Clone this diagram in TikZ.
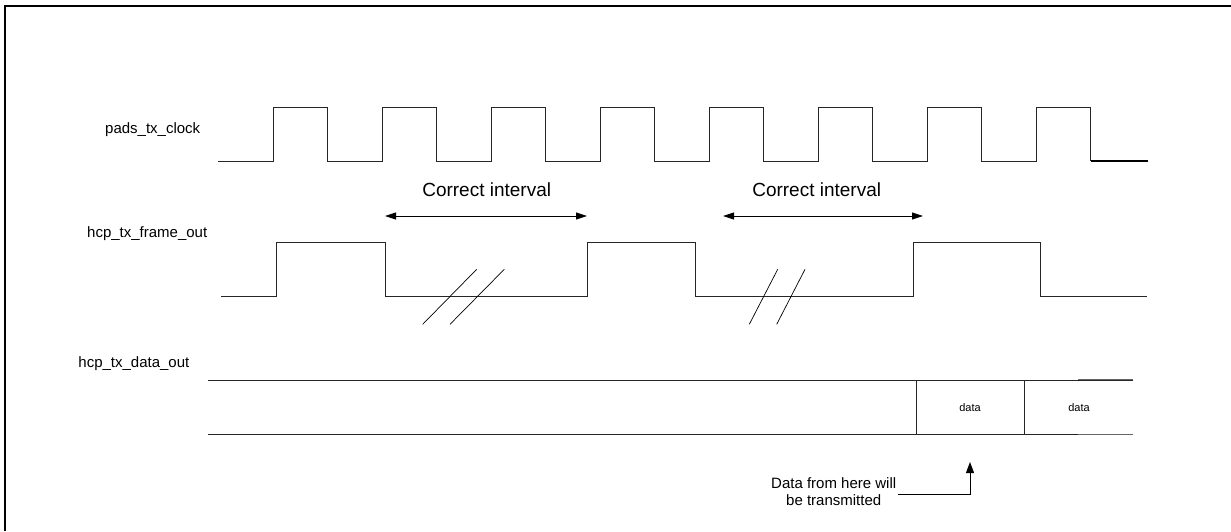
\documentclass[tikz,border=0pt]{standalone}
\usepackage{fontspec}
\setmainfont{Liberation Sans}
\usetikzlibrary{arrows.meta}

\begin{document}
\begin{tikzpicture}[
    x=1pt, y=-1pt,
    wave/.style={draw=black!85, line width=0.9pt},
    siglabel/.style={inner sep=0pt, font=\fontsize{15}{18}\selectfont},
    intervaltext/.style={inner sep=0pt, font=\fontsize{19}{22}\selectfont},
    datatext/.style={inner sep=0pt, font=\fontsize{11}{13}\selectfont},
    span/.style={line width=0.9pt, {Triangle[length=11pt,width=7pt]}-{Triangle[length=11pt,width=7pt]}},
    pointer/.style={line width=0.9pt, -{Triangle[length=11pt,width=8pt]}},
    hatch/.style={draw=black, line width=0.7pt}
]

    \useasboundingbox (0,0) rectangle (1231,531);

    % Frame
    \draw[line width=2.4pt] (5,531) -- (5,6) -- (1231,6);

    % Coordinates
    \coordinate (ci1_left)  at (385,216);
    \coordinate (ci1_right) at (587,216);
    \coordinate (ci2_left)  at (723,216);
    \coordinate (ci2_right) at (923,216);
    \coordinate (data_here) at (970,462);

    % Signal names
    \node[siglabel] (clk_name)   at (152.7,130) {pads\_tx\_clock};
    \node[siglabel] (frame_name) at (147.2,233.3) {hcp\_tx\_frame\_out};
    \node[siglabel] (data_name)  at (133.9,363.3) {hcp\_tx\_data\_out};

    % Clock
    \draw[wave] (218,161)
        \foreach \k in {0,...,7} {
            -- ({273+109*\k},161) -- ({273+109*\k},107)
            -- ({327.5+109*\k},107) -- ({327.5+109*\k},161)
        } -- (1090.5,161);
    \draw[line width=1.6pt] (1090.5,161) -- (1148,161);

    % Frame signal
    \draw[wave] (221,296) -- (276.5,296) -- (276.5,242) -- (385,242)
        -- (385,296) -- (587,296) -- (587,242) -- (695.5,242)
        -- (695.5,296) -- (913,296) -- (913,242) -- (1040,242)
        -- (1040,296) -- (1147,296);

    % Break marks
    \draw[hatch] (422.7,324.3) -- (476.7,269.3);
    \draw[hatch] (450,324.3) -- (504.3,269.3);
    \draw[hatch] (749.3,324.3) -- (777.7,269.3);
    \draw[hatch] (776.7,324.3) -- (805,269.3);

    % Correct intervals
    \draw[span] (ci1_left) -- (ci1_right);
    \draw[span] (ci2_left) -- (ci2_right);
    \node[intervaltext] (ci1_text) at (486.7,190) {Correct interval};
    \node[intervaltext] (ci2_text) at (816.7,190) {Correct interval};

    % Data bus
    \draw[wave] (208,380) -- (1133,380);
    \draw[wave] (208,434) -- (1133,434);
    \draw[wave] (916,380) -- (916,434);
    \draw[wave] (1024,380) -- (1024,434);
    \draw[black!60, line width=0.9pt] (1078,379.3) -- (1133,379.3);
    \draw[black!60, line width=0.9pt] (1078,434.7) -- (1133,434.7);
    \node[datatext] (data_a) at (970,408) {data};
    \node[datatext] (data_b) at (1079,408) {data};

    % Note
    \node[siglabel, align=center, font=\fontsize{15}{17.3}\selectfont] (note) at (833.7,491.3)
        {Data from here will\\be transmitted};
    \draw[pointer] ([shift={(2,3)}]note.east) -| (data_here);

\end{tikzpicture}
\end{document}
